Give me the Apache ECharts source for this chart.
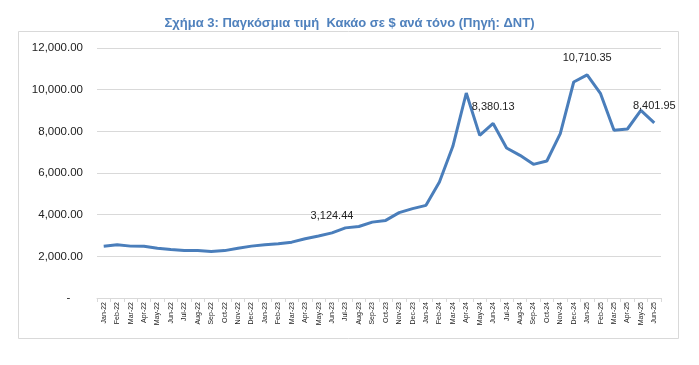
<!DOCTYPE html>
<html><head><meta charset="utf-8">
<script src="https://cdn.jsdelivr.net/npm/echarts@6/dist/echarts.min.js"></script>
<style>html,body{margin:0;padding:0;background:#fff}#c{width:699px;height:365px}</style>
</head><body><div id="c"></div>
<script>
const titleText = 'Σχήμα 3: Παγκόσμια τιμή  Κακάο σε $ ανά τόνο (Πηγή: ΔΝΤ)';
const categories = ['Jan-22','Feb-22','Mar-22','Apr-22','May-22','Jun-22','Jul-22','Aug-22','Sep-22','Oct-22','Nov-22','Dec-22',
'Jan-23','Feb-23','Mar-23','Apr-23','May-23','Jun-23','Jul-23','Aug-23','Sep-23','Oct-23','Nov-23','Dec-23',
'Jan-24','Feb-24','Mar-24','Apr-24','May-24','Jun-24','Jul-24','Aug-24','Sep-24','Oct-24','Nov-24','Dec-24',
'Jan-25','Feb-25','Mar-25','Apr-25','May-25','Jun-25'];
const prices = [2488,2553,2490,2485,2390,2330,2280,2275,2230,2275,2390,2490,
2555,2600,2680,2845,2975,3124.44,3366,3431,3642,3724,4096,4288,
4448,5568,7280,9840,7808,8380.13,7200,6848,6416,6576,7888,10368,
10710.35,9808,8048,8112,9008,8401.95];
const labeledMonths = ['Jun-23','Jun-24','Jan-25','Jun-25'];
const yTicks = [0,2000,4000,6000,8000,10000,12000];

const fmt = v => v.toLocaleString('en-US',{minimumFractionDigits:2,maximumFractionDigits:2});
const font = '"Liberation Sans Narrow","Arial Narrow","Liberation Sans",Arial,sans-serif';

const chart = echarts.init(document.getElementById('c'));
chart.setOption({
  animation:false,
  backgroundColor:'#fff',
  title:{text:titleText,left:'center',top:12,textStyle:{fontFamily:font,fontSize:13,fontWeight:'bold',color:'#4F81BD'}},
  graphic:[{type:'rect',shape:{x:18.5,y:31.5,width:660,height:307},style:{fill:'none',stroke:'#d9d9d9',lineWidth:1},silent:true,z:-1}],
  grid:{left:97,right:38,top:48,bottom:67},
  xAxis:{type:'category',data:categories,boundaryGap:true,
    axisLine:{lineStyle:{color:'#d9d9d9'}},
    axisTick:{show:true,length:4,lineStyle:{color:'#d9d9d9'}},
    axisLabel:{rotate:90,interval:0,fontFamily:font,fontSize:7,color:'#222',margin:4}},
  yAxis:{type:'value',min:yTicks[0],max:yTicks[yTicks.length-1],interval:2000,
    axisLine:{show:false},axisTick:{show:false},
    splitLine:{lineStyle:{color:'#d9d9d9'}},
    axisLabel:{fontFamily:font,fontSize:11.5,color:'#222',margin:14,
      formatter:v=> v===0 ? '-    ' : fmt(v)}},
  series:[{type:'line',
    data:prices.map((v,i)=>({value:v,label:{show:labeledMonths.includes(categories[i])}})),
    symbol:'circle',symbolSize:0.1,showSymbol:true,showAllSymbol:true,
    itemStyle:{color:'#4A7EBB'},
    lineStyle:{color:'#4A7EBB',width:3},
    label:{show:false,position:'top',distance:11,fontFamily:font,fontSize:11,color:'#222',formatter:p=>fmt(p.value)}}]
});
</script></body></html>
